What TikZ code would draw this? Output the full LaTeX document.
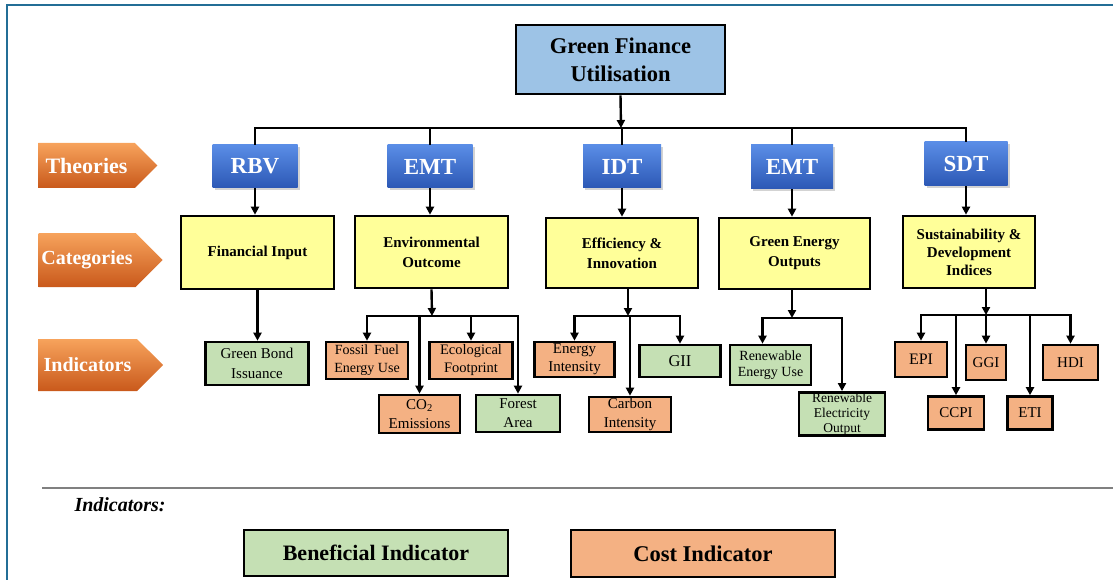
\documentclass[tikz,border=0pt]{standalone}
\usepackage{fontspec}
\setmainfont{Liberation Serif}
\usetikzlibrary{arrows.meta,shapes.symbols,shadows}

\definecolor{frameblue}{HTML}{236E96}
\definecolor{headblue}{HTML}{9DC3E6}
\definecolor{catyellow}{HTML}{FFFF99}
\definecolor{goodgreen}{HTML}{C5E0B4}
\definecolor{costorange}{HTML}{F4B183}
\definecolor{theotop}{HTML}{5A8DE6}
\definecolor{theobot}{HTML}{2C58B5}
\definecolor{tagtop}{HTML}{F7A35C}
\definecolor{tagbot}{HTML}{C9591B}

\tikzset{
  box/.style={draw=black,line width=2.6pt,align=center,inner sep=0.5pt},
  headbox/.style={box,fill=headblue,font=\bfseries\fontsize{22.5}{28}\selectfont},
  theobox/.style={rectangle,top color=theotop,bottom color=theobot,text=white,
    font=\bfseries\fontsize{23}{26}\selectfont,
    drop shadow={opacity=0.35,shadow xshift=2pt,shadow yshift=-2pt}},
  tag/.style={signal,signal to=east,signal pointer angle=90,top color=tagtop,
    bottom color=tagbot,text=white,font=\bfseries\fontsize{20}{24}\selectfont,inner sep=1pt},
  catbox/.style={box,fill=catyellow,font=\bfseries\fontsize{15}{20}\selectfont},
  goodbox/.style={box,fill=goodgreen,font=\fontsize{15}{19}\selectfont},
  costbox/.style={box,fill=costorange,font=\fontsize{15}{19}\selectfont},
  link/.style={line width=2.4pt},
  arr/.style={link,-{Triangle[length=8pt,width=8pt]}},
}

\begin{document}
\begin{tikzpicture}[x=1pt,y=-1pt]
\useasboundingbox (0,0) rectangle (1113,580);
% frame and legend line
\draw[frameblue,line width=2pt] (7,580) -- (7,5) -- (1113,5);
\draw[gray,line width=2.5pt] (42,488) -- (1113,488);

% row tags
\node[tag,minimum width=119pt,minimum height=45pt,font=\bfseries\fontsize{22}{24}\selectfont] (theories) at (86.5,165.5) {Theories};
\node[tag,minimum width=124pt,minimum height=54pt] (categories) at (87,260) {Categories};
\node[tag,minimum width=125pt,minimum height=52pt] (indicators) at (87.5,365) {Indicators};

% top
\node[headbox,minimum width=209pt,minimum height=69pt] (gfu) at (620.5,59.5) {Green Finance\\Utilisation};

% theories
\node[theobox,minimum width=85pt,minimum height=43pt] (rbv) at (255,166.5) {RBV};
\node[theobox,minimum width=85pt,minimum height=43pt] (emt1) at (430,166.5) {EMT};
\node[theobox,minimum width=78pt,minimum height=43pt] (idt) at (622,166.5) {IDT};
\node[theobox,minimum width=82pt,minimum height=44pt] (emt2) at (792,167) {EMT};
\node[theobox,minimum width=83pt,minimum height=44pt] (sdt) at (966,164) {SDT};

% categories
\node[catbox,minimum width=153pt,minimum height=73pt] (fin) at (257.5,252.5) {Financial Input};
\node[catbox,minimum width=153pt,minimum height=72pt] (env) at (431.5,252) {Environmental\\Outcome};
\node[catbox,minimum width=152pt,minimum height=70pt] (eff) at (622,253) {Efficiency \&\\Innovation};
\node[catbox,minimum width=151pt,minimum height=71pt] (geo) at (794.5,253.5) {Green Energy\\Outputs};
\node[catbox,minimum width=132pt,minimum height=72pt,font=\bfseries\fontsize{15}{18}\selectfont] (sdi) at (969,252) {Sustainability \&\\Development\\Indices};

% indicators
\node[goodbox,minimum width=103pt,minimum height=43pt,font=\fontsize{15}{20}\selectfont] (gbi) at (257,363.5) {Green Bond\\Issuance};
\node[costbox,minimum width=82pt,minimum height=37pt,font=\fontsize{14}{18}\selectfont] (foss) at (367,360.5) {Fossil\, Fuel\\Energy Use};
\node[costbox,minimum width=83pt,minimum height=37pt,font=\fontsize{14.5}{18}\selectfont] (eco) at (471,360.5) {Ecological\\Footprint};
\node[costbox,minimum width=81pt,minimum height=38pt] (co2) at (419.5,414) {CO\textsubscript{2}\\Emissions};
\node[goodbox,minimum width=84pt,minimum height=37pt] (forest) at (518,413.5) {Forest\\Area};
\node[costbox,minimum width=80pt,minimum height=35pt,font=\fontsize{15}{18}\selectfont] (enint) at (574.5,359.5) {Energy\\Intensity};
\node[costbox,minimum width=82pt,minimum height=35pt] (carb) at (630,414.5) {Carbon\\Intensity};
\node[goodbox,minimum width=81pt,minimum height=32pt,font=\fontsize{16.5}{18}\selectfont] (gii) at (680,361) {GII};
\node[goodbox,minimum width=81pt,minimum height=40pt,font=\fontsize{14}{16}\selectfont] (reuse) at (770.5,365) {Renewable\\Energy Use};
\node[goodbox,minimum width=86pt,minimum height=42pt,font=\fontsize{13.5}{15}\selectfont] (reo) at (842,414) {Renewable\\Electricity\\Output};
\node[costbox,minimum width=52pt,minimum height=35pt,font=\fontsize{16}{18}\selectfont] (epi) at (921,359.5) {EPI};
\node[costbox,minimum width=56pt,minimum height=33pt,font=\fontsize{15}{18}\selectfont] (ccpi) at (956,413) {CCPI};
\node[costbox,minimum width=40pt,minimum height=35pt,font=\fontsize{15}{18}\selectfont] (ggi) at (986,362.5) {GGI};
\node[costbox,minimum width=45pt,minimum height=33pt,font=\fontsize{15}{18}\selectfont] (eti) at (1030,413) {ETI};
\node[costbox,minimum width=55pt,minimum height=35pt,font=\fontsize{15}{18}\selectfont] (hdi) at (1070.5,362.5) {HDI};

% top connectors
\coordinate (bus) at (621,128);
\draw[arr] (gfu.south) -- (bus);
\draw[link] (rbv.north) |- (bus) -| (sdt.north);
\foreach \t in {emt1,idt,emt2}
  \draw[link] (\t.north) -- (\t.north |- bus);
\foreach \t/\c in {rbv/fin,emt1/env,idt/eff,emt2/geo,sdt/sdi}
  \draw[arr] (\t.south) -- (\t.south |- \c.north);

% category to indicators
\draw[arr] (fin.south) -- (fin.south |- gbi.north);

\coordinate (envbus) at (432,316);
\draw[arr] (env.south) -- (envbus);
\foreach \i in {foss,co2,eco,forest}
  \draw[arr] (envbus) -| (\i.north);

\coordinate (effbus) at (628,316);
\draw[arr] (effbus |- eff.south) -- (effbus);
\foreach \i in {enint,carb,gii}
  \draw[arr] (effbus) -| (\i.north);

\coordinate (geobus) at (792,318);
\draw[arr] (geobus |- geo.south) -- (geobus);
\draw[arr] (geobus) -| ([xshift=-8pt]reuse.north);
\draw[arr] (geobus) -| (reo.north);

\coordinate (sdibus) at (986,315);
\draw[arr] (sdibus |- sdi.south) -- (sdibus);
\foreach \i in {epi,ccpi,ggi,eti,hdi}
  \draw[arr] (sdibus) -| (\i.north);

% legend
\node[anchor=west,font=\bfseries\itshape\fontsize{20}{22}\selectfont] (legtitle) at (71,505) {Indicators:};
\node[goodbox,minimum width=264pt,minimum height=46pt,font=\bfseries\fontsize{22}{24}\selectfont] (leggood) at (376,553) {Beneficial Indicator};
\node[costbox,minimum width=264pt,minimum height=47pt,font=\bfseries\fontsize{22.5}{24}\selectfont] (legcost) at (703,553.5) {Cost Indicator};
\end{tikzpicture}
\end{document}
